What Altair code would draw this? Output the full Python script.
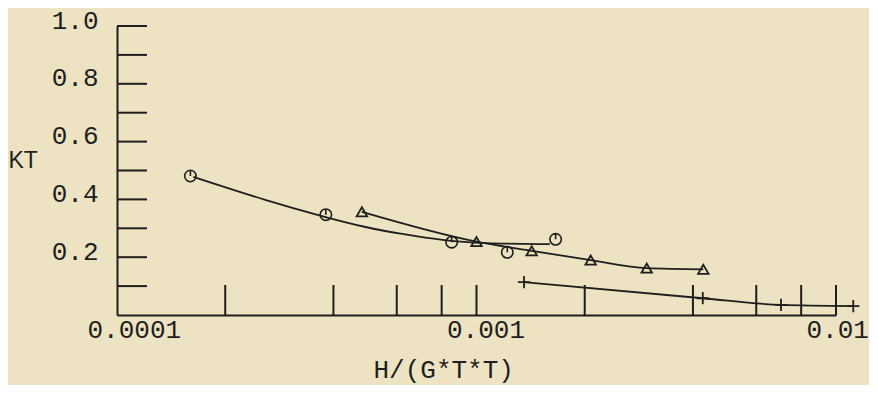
import altair as alt
import pandas as pd

# --- data ---
circ_x = [1.60e-4, 3.81e-4, 8.53e-4, 1.218e-3, 1.66e-3]
circ_y = [0.481, 0.347, 0.252, 0.217, 0.262]

# fitted curve through the circle series
circfit_x = [1.63e-4, 2.61e-4, 3.81e-4, 4.95e-4, 6.13e-4, 8.26e-4, 1.023e-3, 1.60e-3]
circfit_y = [0.478, 0.395, 0.338, 0.302, 0.281, 0.256, 0.248, 0.245]

tri_x = [4.80e-4, 1.00e-3, 1.424e-3, 2.078e-3, 2.975e-3, 4.275e-3]
tri_y = [0.357, 0.254, 0.222, 0.190, 0.162, 0.158]

plus_x = [1.356e-3, 4.26e-3, 7.03e-3, 1.117e-2]
plus_y = [0.114, 0.058, 0.035, 0.031]

x_tick_values = [2e-4, 4e-4, 6e-4, 8e-4, 1e-3, 2e-3, 4e-3, 6e-3, 8e-3, 1e-2]
x_label_values = [1e-4, 1e-3, 1e-2]
y_tick_values = [0.1, 0.2, 0.3, 0.4, 0.5, 0.6, 0.7, 0.8, 0.9, 1.0]
y_label_values = [0.2, 0.4, 0.6, 0.8, 1.0]

W, H = 719, 289
INK = "#1e1e1e"
BG = "#EDE3C2"
MONO = "Liberation Mono"

circ = pd.DataFrame({"x": circ_x, "y": circ_y})
circfit = pd.DataFrame({"x": circfit_x, "y": circfit_y})
tri = pd.DataFrame({"x": tri_x, "y": tri_y})
plus = pd.DataFrame({"x": plus_x, "y": plus_y})
xt = pd.DataFrame({"x": x_tick_values})
yt = pd.DataFrame({"y": y_tick_values})

xscale = alt.Scale(type="log", domain=[1e-4, 1e-2], nice=False)
yscale = alt.Scale(domain=[0, 1], nice=False, zero=True)

x_axis = alt.Axis(
    values=x_label_values, format=".4~f", ticks=False, grid=False,
    domain=True, domainColor=INK, domainWidth=2,
    labelFont=MONO, labelFontSize=26, labelColor=INK,
    labelAlign="left", labelOffset=-30, labelBaseline="top", labelPadding=1,
    labelFlush=False, labelOverlap=False,
    title="H/(G*T*T)", titleFont=MONO, titleFontSize=26, titleFontWeight="normal",
    titleColor=INK, titleAlign="left", titleAnchor="start", titleBaseline="middle",
    titleX=256, titleY=54,
)
y_axis = alt.Axis(
    values=y_label_values, format=".1f", ticks=False, grid=False,
    domain=True, domainColor=INK, domainWidth=2,
    labelFont=MONO, labelFontSize=26, labelColor=INK,
    labelAlign="right", labelBaseline="middle", labelOffset=-6, labelPadding=19,
    labelFlush=False, labelOverlap=False,
    title="KT", titleFont="Liberation Sans", titleFontSize=23, titleFontWeight="normal",
    titleColor=INK, titleAngle=0, titleAlign="left", titleBaseline="middle",
    titleX=-109, titleY=134,
)

X = alt.X("x:Q", scale=xscale, axis=x_axis)
Y = alt.Y("y:Q", scale=yscale, axis=y_axis)

circ_fit_line = alt.Chart(circfit).mark_line(
    color=INK, strokeWidth=1.8, interpolate="basis"
).encode(x=X, y=Y)

circ_shape = "M-1,0A1,1,0,1,1,1,0A1,1,0,1,1,-1,0M0,-1L0,0"
circ_pts = alt.Chart(circ).mark_point(
    shape=circ_shape, filled=False, stroke=INK, strokeWidth=1.6, size=130, opacity=1
).encode(x=X, y=Y)

tri_line = alt.Chart(tri).mark_line(
    color=INK, strokeWidth=1.8, interpolate="monotone"
).encode(x=X, y=Y)
tri_pts = alt.Chart(tri).mark_point(
    shape="triangle-up", filled=False, stroke=INK, strokeWidth=1.8, size=110, opacity=1
).encode(x=X, y=Y)

plus_line = alt.Chart(plus).mark_line(
    color=INK, strokeWidth=1.8, interpolate="monotone"
).encode(x=X, y=Y)
plus_pts = alt.Chart(plus).mark_point(
    shape="M-1,0L1,0M0,-1L0,1", filled=False, stroke=INK, strokeWidth=1.8, size=150, opacity=1
).encode(x=X, y=Y)

x_ticks = alt.Chart(xt).mark_rule(color=INK, strokeWidth=2).encode(
    x=X, y=alt.value(H), y2=alt.value(H - 30),
)
y_ticks = alt.Chart(yt).mark_rule(color=INK, strokeWidth=2).encode(
    y=Y, x=alt.value(0), x2=alt.value(30),
)

chart = alt.layer(
    circ_fit_line, circ_pts, tri_line, tri_pts, plus_line, plus_pts, x_ticks, y_ticks
).properties(
    width=W, height=H,
    padding={"left": 109, "top": 18, "right": 33, "bottom": 70},
    autosize=alt.AutoSizeParams(type="none"),
    background=BG,
).configure_view(strokeWidth=0)

chart.save("out.html", embed_options={"renderer": "svg", "actions": False})
